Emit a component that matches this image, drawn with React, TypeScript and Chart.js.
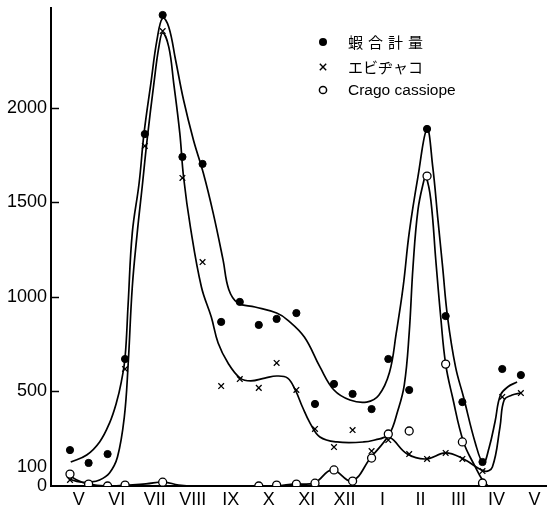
import { useEffect, useRef } from 'react';
import { Chart, registerables } from 'chart.js';

Chart.register(...registerables);

// Month tick labels (May .. next May) placed at month positions 0..12
const monthLabels = ['V', 'VI', 'VII', 'VIII', 'IX', 'X', 'XI', 'XII', 'I', 'II', 'III', 'IV', 'V'];
const monthPositions = [0, 1, 2, 3, 4, 5, 6, 7, 8, 9, 10, 11, 12];
const yTickValues = [0, 100, 500, 1000, 1500, 2000];
const yInnerTickValues = [500, 1000, 1500, 2000];
const legendLabels = ['蝦合計量', 'エビヂャコ', 'Crago cassiope'];

// Sampling dates (in months from May) and observed values
const sampleX = [-0.23, 0.26, 0.76, 1.22, 1.74, 2.21, 2.73, 3.26, 3.75, 4.24, 4.74, 5.21, 5.73, 6.22, 6.72, 7.21, 7.71, 8.15, 8.7, 9.17, 9.66, 10.1, 10.63, 11.15, 11.64];
const totalValues = [190, 122, 169, 672, 1862, 2492, 1741, 1704, 868, 974, 852, 884, 915, 434, 540, 487, 407, 672, 508, 1889, 899, 444, 127, 619, 587];
const ebiValues = [32, null, null, 619, 1799, 2407, 1630, 1185, 529, 566, 519, 651, 508, 302, 206, 296, 185, 243, 169, 143, 175, 143, 79, 471, 492];
const cragoValues = [63, 10, 0, 5, null, 20, null, null, null, null, 0, 5, 10, 15, 85, 26, 148, 275, 291, 1640, 645, 233, 16, null, null];

// Hand-drawn fitted curves
const totalCurveX = [-0.21, 0.21, 0.55, 0.81, 0.99, 1.12, 1.22, 1.3, 1.41, 1.59, 1.72, 1.9, 2.06, 2.21, 2.37, 2.55, 2.76, 3.02, 3.28, 3.54, 3.8, 3.95, 4.19, 4.64, 5.21, 5.5, 5.94, 6.35, 6.72, 7.14, 7.58, 7.9, 8.18, 8.36, 8.54, 8.7, 8.93, 9.17, 9.32, 9.45, 9.58, 9.71, 9.92, 10.13, 10.44, 10.65, 10.8, 10.96, 11.1, 11.3, 11.54];
const totalCurveY = [127, 164, 233, 333, 439, 550, 680, 960, 1339, 1603, 1868, 2132, 2360, 2476, 2429, 2254, 2042, 1831, 1656, 1444, 1196, 1040, 968, 947, 915, 878, 788, 630, 508, 455, 444, 480, 600, 810, 1053, 1339, 1635, 1889, 1688, 1423, 1159, 894, 630, 471, 228, 122, 200, 340, 480, 525, 550];

const ebiCurveX = [-0.26, 0.03, 0.29, 0.55, 0.81, 1.02, 1.2, 1.3, 1.41, 1.54, 1.67, 1.8, 1.98, 2.11, 2.21, 2.37, 2.5, 2.66, 2.76, 2.94, 3.23, 3.49, 3.67, 3.93, 4.25, 4.53, 4.9, 5.21, 5.5, 5.7, 5.89, 6.09, 6.35, 6.8, 7.5, 7.92, 8.18, 8.65, 9.14, 9.66, 10.13, 10.68, 10.89, 11.09, 11.2, 11.41, 11.64];
const ebiCurveY = [37, 21, 21, 32, 69, 153, 365, 640, 1053, 1339, 1582, 1831, 2132, 2323, 2397, 2323, 2132, 1868, 1635, 1370, 1053, 894, 757, 651, 571, 556, 571, 582, 571, 508, 418, 333, 259, 233, 233, 249, 259, 169, 143, 175, 143, 79, 101, 312, 455, 481, 492];

const cragoCurveX = [-0.29, -0.05, 0.23, 0.76, 1.25, 1.77, 2.24, 2.63, 3.15, 4.74, 5.21, 5.68, 6.2, 6.67, 7.19, 7.68, 8.18, 8.39, 8.57, 8.7, 8.8, 8.93, 9.09, 9.14, 9.27, 9.4, 9.53, 9.66, 9.84, 10.13, 10.44, 10.63, 10.78];
const cragoCurveY = [63, 32, 11, 0, 5, 11, 21, 5, 0, 0, 0, 11, 16, 85, 26, 148, 275, 392, 534, 810, 1159, 1460, 1619, 1640, 1513, 1196, 894, 645, 471, 233, 101, 32, 0];

const toPoints = (xs: number[], ys: (number | null)[]) =>
  xs.map((x, i) => ({ x, y: ys[i] })).filter((p) => p.y !== null) as { x: number; y: number }[];

const innerTicksPlugin = {
  id: 'innerTicks',
  afterDraw(chart: any) {
    const { ctx, chartArea } = chart;
    const yScale = chart.scales.y;
    ctx.save();
    ctx.strokeStyle = '#000';
    ctx.lineWidth = 1.5;
    yInnerTickValues.forEach((v) => {
      const py = Math.round(yScale.getPixelForValue(v)) + 0.5;
      ctx.beginPath();
      ctx.moveTo(chartArea.left, py);
      ctx.lineTo(chartArea.left + 8, py);
      ctx.stroke();
    });
    ctx.restore();
  },
};

const legendPlugin = {
  id: 'customLegend',
  afterDraw(chart: any) {
    const ctx = chart.ctx;
    const mx = 323;
    const tx = 348;
    const rows = [42, 67, 90];
    ctx.save();
    ctx.fillStyle = '#000';
    ctx.strokeStyle = '#000';
    ctx.beginPath();
    ctx.arc(mx, rows[0], 4, 0, Math.PI * 2);
    ctx.fill();
    ctx.lineWidth = 1.4;
    ctx.beginPath();
    ctx.moveTo(mx - 3.2, rows[1] - 3.2);
    ctx.lineTo(mx + 3.2, rows[1] + 3.2);
    ctx.moveTo(mx + 3.2, rows[1] - 3.2);
    ctx.lineTo(mx - 3.2, rows[1] + 3.2);
    ctx.stroke();
    ctx.lineWidth = 1.5;
    ctx.beginPath();
    ctx.arc(mx, rows[2], 3.6, 0, Math.PI * 2);
    ctx.stroke();

    ctx.textBaseline = 'middle';
    ctx.textAlign = 'left';
    ctx.font = '15px "Noto Sans CJK JP"';
    (ctx as any).letterSpacing = '5px';
    ctx.fillText(legendLabels[0], tx, rows[0]);
    (ctx as any).letterSpacing = '0px';
    ctx.fillText(legendLabels[1], tx, rows[1]);
    ctx.font = '15.5px "Liberation Sans", Arial, sans-serif';
    ctx.fillText(legendLabels[2], tx, rows[2] + 1);
    ctx.restore();
  },
};

export default function App() {
  const canvasRef = useRef<HTMLCanvasElement | null>(null);

  useEffect(() => {
    if (!canvasRef.current) return;
    const curveStyle = {
      showLine: true,
      pointRadius: 0,
      pointHoverRadius: 0,
      borderColor: '#000',
      borderWidth: 1.7,
      tension: 0.4,
      fill: false,
      order: 2,
    };
    const chart = new Chart(canvasRef.current, {
      type: 'scatter',
      data: {
        datasets: [
          { label: legendLabels[0], data: toPoints(sampleX, totalValues), pointStyle: 'circle', pointRadius: 3.6, backgroundColor: '#000', borderColor: '#000', borderWidth: 1, order: 0 },
          { label: legendLabels[1], data: toPoints(sampleX, ebiValues), pointStyle: 'crossRot', pointRadius: 4, backgroundColor: '#000', borderColor: '#000', borderWidth: 1.3, order: 0 },
          { label: legendLabels[2], data: toPoints(sampleX, cragoValues), pointStyle: 'circle', pointRadius: 4, backgroundColor: '#fff', borderColor: '#000', borderWidth: 1.3, order: 0 },
          { label: 'total-curve', data: toPoints(totalCurveX, totalCurveY), ...curveStyle },
          { label: 'ebi-curve', data: toPoints(ebiCurveX, ebiCurveY), ...curveStyle },
          { label: 'crago-curve', data: toPoints(cragoCurveX, cragoCurveY), ...curveStyle },
        ] as any,
      },
      options: {
        animation: false,
        responsive: false,
        layout: { padding: { top: 8, right: 0, left: 0, bottom: 0 } },
        plugins: { legend: { display: false }, tooltip: { enabled: false } },
        events: [],
        scales: {
          x: {
            type: 'linear',
            min: -0.73,
            max: 12.32,
            grid: { display: false, drawTicks: false },
            border: { display: true, color: '#000', width: 2 },
            afterBuildTicks: (scale: any) => {
              scale.ticks = monthPositions.map((v) => ({ value: v }));
            },
            afterFit: (scale: any) => {
              scale.height = 26;
              scale.paddingLeft = 0;
              scale.paddingRight = 0;
            },
            ticks: {
              autoSkip: false,
              maxRotation: 0,
              padding: 3,
              color: '#000',
              font: { family: '"Liberation Sans", Arial, sans-serif', size: 18 },
              callback: (_v: any, i: number) => monthLabels[i],
            },
          },
          y: {
            type: 'linear',
            min: 0,
            max: 2529,
            grid: { display: false, drawTicks: false },
            border: { display: true, color: '#000', width: 2 },
            afterBuildTicks: (scale: any) => {
              scale.ticks = yTickValues.map((v) => ({ value: v }));
            },
            afterFit: (scale: any) => {
              scale.width = 51;
              scale.paddingTop = 0;
              scale.paddingBottom = 0;
            },
            ticks: {
              padding: 4,
              color: '#000',
              font: { family: '"Liberation Sans", Arial, sans-serif', size: 18 },
              callback: (v: any) => String(v),
            },
          },
        },
      },
      plugins: [innerTicksPlugin, legendPlugin],
    });
    return () => chart.destroy();
  }, []);

  return (
    <div style={{ position: 'absolute', left: 0, top: 0, width: 552, height: 512, background: '#fff' }}>
      <canvas ref={canvasRef} width={552} height={512} style={{ display: 'block' }} />
    </div>
  );
}
